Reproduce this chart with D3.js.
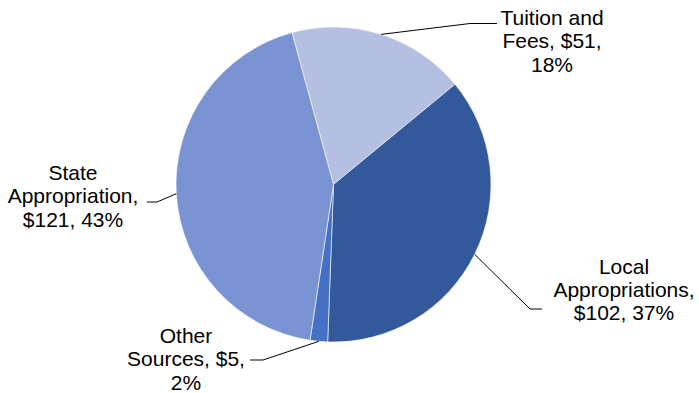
<!DOCTYPE html>
<html>
<head>
<meta charset="utf-8">
<script src="https://cdn.jsdelivr.net/npm/d3@7"></script>
<style>
  html, body { margin: 0; padding: 0; background: #fff; }
  svg { display: block; }
  text { font-family: "Liberation Sans", Arial, sans-serif; font-size: 21px; fill: #000; }
</style>
</head>
<body>
<svg id="chart" width="699" height="393"></svg>
<script>
// Revenue sources (in $ millions), drawn clockwise in this order
const categories = ["Tuition and Fees", "Local Appropriations", "Other Sources", "State Appropriation"];
const values = [51, 102, 5, 121];
const percents = [18, 37, 2, 43];
const labelLines = [
  ["Tuition and", "Fees, $51,", "18%"],
  ["Local", "Appropriations,", "$102, 37%"],
  ["Other", "Sources, $5,", "2%"],
  ["State", "Appropriation,", "$121, 43%"]
];
const colors = ["#b4bfe1", "#33599c", "#4571c4", "#7a93d2"];

// Label placement: text centre / first baseline, and leader elbow + end points
const layout = [
  { tx: 552, ty: 25,  elbow: [470, 23.5], end: [497, 23.5] },
  { tx: 624, ty: 273.5, elbow: [530, 309], end: [542, 309] },
  { tx: 186, ty: 343, elbow: [263, 360], end: [250, 360] },
  { tx: 73,  ty: 180, elbow: [157, 202], end: [147, 202] }
];

const cx = 333.5, cy = 184.5, radius = 157.5;
const lineHeight = 23.4;
const startAngle = -15.3 * Math.PI / 180;

const svg = d3.select("#chart");
const g = svg.append("g").attr("transform", `translate(${cx},${cy})`);

const pie = d3.pie()
  .value(d => d.value)
  .sort(null)
  .startAngle(startAngle)
  .endAngle(startAngle + 2 * Math.PI);

const data = categories.map((c, i) => ({ name: c, value: values[i], i }));
const arcs = pie(data);

const arc = d3.arc().innerRadius(0).outerRadius(radius);

g.selectAll("path.slice")
  .data(arcs)
  .join("path")
  .attr("class", "slice")
  .attr("d", arc)
  .attr("fill", d => colors[d.data.i])
  .attr("stroke", "#ffffff")
  .attr("stroke-width", 0.6);

// Leader lines from the middle of each slice's outer edge
const edgePoint = d => {
  const a = (d.startAngle + d.endAngle) / 2;
  return [cx + radius * Math.sin(a), cy - radius * Math.cos(a)];
};

svg.selectAll("polyline.leader")
  .data(arcs)
  .join("polyline")
  .attr("class", "leader")
  .attr("points", d => {
    const L = layout[d.data.i];
    return [edgePoint(d), L.elbow, L.end].map(p => p.join(",")).join(" ");
  })
  .attr("fill", "none")
  .attr("stroke", "#000")
  .attr("stroke-width", 1);

// Multi-line labels
const labels = svg.selectAll("text.label")
  .data(arcs)
  .join("text")
  .attr("class", "label")
  .attr("text-anchor", "middle");

labels.each(function(d) {
  const L = layout[d.data.i];
  d3.select(this).selectAll("tspan")
    .data(labelLines[d.data.i])
    .join("tspan")
    .attr("x", L.tx)
    .attr("y", (t, k) => L.ty + k * lineHeight)
    .text(t => t);
});
</script>
</body>
</html>
